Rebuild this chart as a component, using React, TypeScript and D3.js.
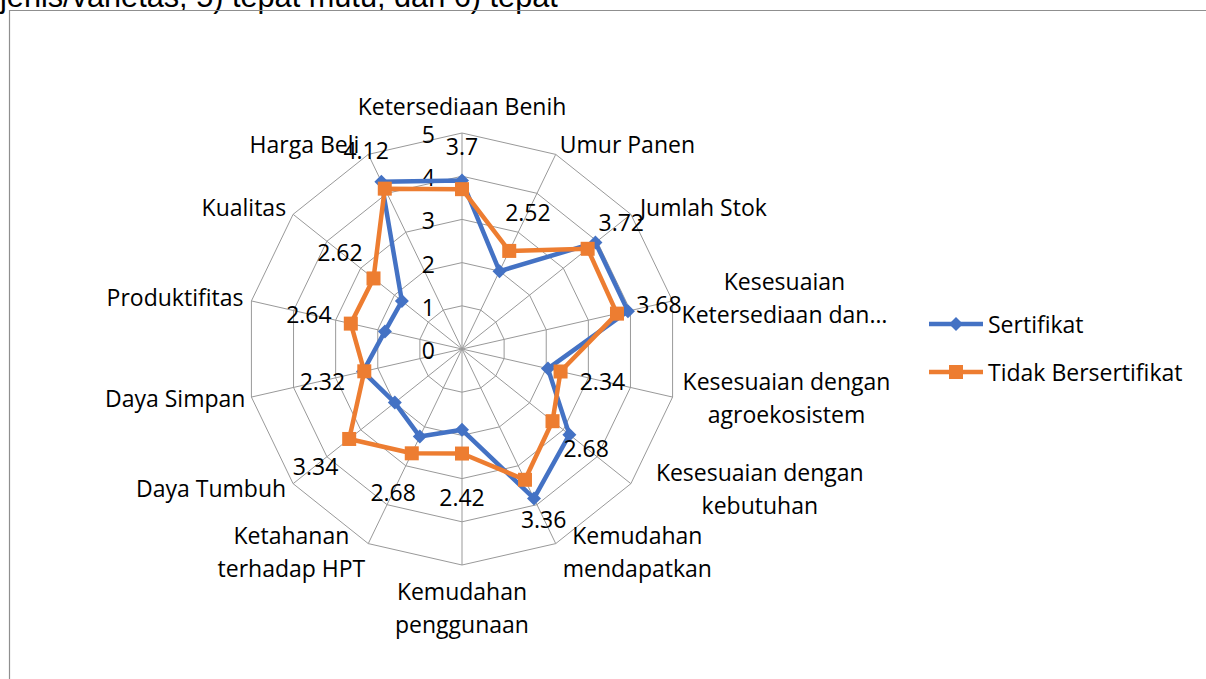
import React, { useEffect, useRef } from 'react';
import * as d3 from 'd3';

// Categories (line breaks follow the wrapped labels of the original)
const categories = [
  'Ketersediaan Benih',
  'Umur Panen',
  'Jumlah Stok',
  'Kesesuaian\nKetersediaan dan…',
  'Kesesuaian dengan\nagroekosistem',
  'Kesesuaian dengan\nkebutuhan',
  'Kemudahan\nmendapatkan',
  'Kemudahan\npenggunaan',
  'Ketahanan\nterhadap HPT',
  'Daya Tumbuh',
  'Daya Simpan',
  'Produktifitas',
  'Kualitas',
  'Harga Beli',
];

const sertifikat = [3.9, 2.0, 3.95, 3.94, 2.04, 3.18, 3.84, 1.87, 2.25, 1.99, 2.35, 1.83, 1.78, 4.3];
const tidakBersertifikat = [3.7, 2.52, 3.72, 3.68, 2.34, 2.68, 3.36, 2.42, 2.68, 3.34, 2.32, 2.64, 2.62, 4.12];
const tickValues = [0, 1, 2, 3, 4, 5];
const seriesNames = ['Sertifikat', 'Tidak Bersertifikat'];

// extra horizontal gap for a few category labels (px)
const catNudge = [0, -3, 2, 2, 3, 18, 0, 0, -4, 0, -1, 1, 0, 2];

const BLUE = '#4472C4';
const ORANGE = '#ED7D31';
const GRID = '#999999';
const FONT = '"Open Sans", sans-serif';
const FS = 23;

const RadarChart: React.FC = () => {
  const ref = useRef<SVGSVGElement>(null);

  useEffect(() => {
    if (!ref.current) return;
    const svg = d3.select(ref.current);
    svg.selectAll('*').remove();

    const width = 1206;
    const height = 679;
    const cx = 462;
    const cy = 349;
    const n = categories.length;

    svg.append('rect').attr('width', width).attr('height', height).attr('fill', '#fff');

    // text of the page behind the chart
    svg.append('text')
      .attr('x', 0)
      .attr('y', 7)
      .attr('font-family', '"Liberation Sans", Arial, sans-serif')
      .attr('font-size', 30.7)
      .attr('fill', '#000')
      .text('jenis/varietas, 5) tepat mutu, dan 6) tepat');

    // chart frame
    svg.append('path')
      .attr('d', `M9.5,${height} V10.5 H${width}`)
      .attr('fill', 'none')
      .attr('stroke', '#8f8f8f')
      .attr('stroke-width', 1.2);

    const r = d3.scaleLinear().domain([0, 5]).range([0, 216]);
    const angle = d3.scaleLinear().domain([0, n]).range([0, 2 * Math.PI]);
    const idx = d3.range(n);

    const g = svg.append('g').attr('transform', `translate(${cx},${cy})`);

    // grid polygons
    const ring = d3.lineRadial<number>()
      .angle(i => angle(i))
      .curve(d3.curveLinearClosed);

    tickValues.filter(t => t > 0).forEach(t => {
      g.append('path')
        .attr('d', ring.radius(() => r(t))(idx) as string)
        .attr('fill', 'none')
        .attr('stroke', GRID)
        .attr('stroke-width', 1);
    });

    // spokes
    g.selectAll('.spoke')
      .data(idx)
      .enter()
      .append('line')
        .attr('x1', 0)
        .attr('y1', 0)
        .attr('x2', i => d3.pointRadial(angle(i), r(5))[0])
        .attr('y2', i => d3.pointRadial(angle(i), r(5))[1])
        .attr('stroke', GRID)
        .attr('stroke-width', 1);

    // tick labels
    g.selectAll('.tick')
      .data(tickValues)
      .enter()
      .append('text')
        .attr('x', -27)
        .attr('y', t => -r(t) + 1)
        .attr('text-anchor', 'end')
        .attr('dominant-baseline', 'central')
        .attr('font-family', FONT)
        .attr('font-size', FS)
        .attr('fill', '#000')
        .text(t => String(t));

    // series
    const series = [
      { name: seriesNames[0], values: sertifikat, color: BLUE, marker: 'diamond' },
      { name: seriesNames[1], values: tidakBersertifikat, color: ORANGE, marker: 'square' },
    ];

    const line = d3.lineRadial<number>()
      .angle((_, i) => angle(i))
      .radius(d => r(d))
      .curve(d3.curveLinearClosed);

    const drawMarker = (sel: d3.Selection<any, any, any, any>, kind: string, color: string, x: number, y: number) => {
      if (kind === 'diamond') {
        const s = 7;
        sel.append('path')
          .attr('d', `M${x},${y - s} L${x + s},${y} L${x},${y + s} L${x - s},${y} Z`)
          .attr('fill', color);
      } else {
        const s = 14;
        sel.append('rect')
          .attr('x', x - s / 2)
          .attr('y', y - s / 2)
          .attr('width', s)
          .attr('height', s)
          .attr('fill', color);
      }
    };

    series.forEach(s => {
      g.append('path')
        .attr('d', line(s.values) as string)
        .attr('fill', 'none')
        .attr('stroke', s.color)
        .attr('stroke-width', 4.5)
        .attr('stroke-linejoin', 'round');
      s.values.forEach((v, i) => {
        const [x, y] = d3.pointRadial(angle(i), r(v));
        drawMarker(g, s.marker, s.color, x, y);
      });
    });

    // data labels (orange series values), pushed outward along the spoke
    tidakBersertifikat.forEach((v, i) => {
      const [x, y] = d3.pointRadial(angle(i), r(v) + 43);
      g.append('text')
        .attr('x', x)
        .attr('y', y)
        .attr('text-anchor', 'middle')
        .attr('dominant-baseline', 'central')
        .attr('font-family', FONT)
        .attr('font-size', FS)
        .attr('fill', '#000')
        .text(String(v));
    });

    // category labels
    const lineH = 33;
    categories.forEach((c, i) => {
      const lines = c.split('\n');
      const a = angle(i);
      const [vx, vy] = d3.pointRadial(a, r(5));
      const sin = Math.sin(a);
      const cos = Math.cos(a);
      const grp = g.append('g');
      const texts = lines.map(l =>
        grp.append('text')
          .attr('text-anchor', 'middle')
          .attr('dominant-baseline', 'central')
          .attr('font-family', FONT)
          .attr('font-size', FS)
          .attr('fill', '#000')
          .text(l)
      );
      const w = d3.max(texts, t => (t.node() as SVGTextElement).getComputedTextLength()) || 0;
      const blockH = lines.length * lineH;
      let bx: number;
      let top: number;
      if (Math.abs(sin) < 0.01) {
        bx = vx;
        top = cos > 0 ? vy - 11 - blockH : vy + 9;
      } else {
        const gap = 7 + catNudge[i];
        bx = sin > 0 ? vx + gap + w / 2 : vx - gap - w / 2;
        top = vy - cos * 10 - blockH / 2 - 1.5;
      }
      texts.forEach((t, k) => {
        t.attr('x', bx).attr('y', top + lineH * k + lineH / 2);
      });
    });

    // legend
    const legend = svg.append('g');
    series.forEach((s, k) => {
      const y = 324 + k * 48;
      legend.append('line')
        .attr('x1', 929)
        .attr('x2', 983)
        .attr('y1', y)
        .attr('y2', y)
        .attr('stroke', s.color)
        .attr('stroke-width', 4.5);
      drawMarker(legend, s.marker, s.color, 956, y);
      legend.append('text')
        .attr('x', 988)
        .attr('y', y)
        .attr('dominant-baseline', 'central')
        .attr('font-family', FONT)
        .attr('font-size', FS)
        .attr('fill', '#000')
        .text(s.name);
    });
  }, []);

  return (
    <div style={{ position: 'absolute', left: 0, top: 0 }}>
      <svg ref={ref} width={1206} height={679} style={{ display: 'block' }} />
    </div>
  );
};

export default function App() {
  return <RadarChart />;
}
